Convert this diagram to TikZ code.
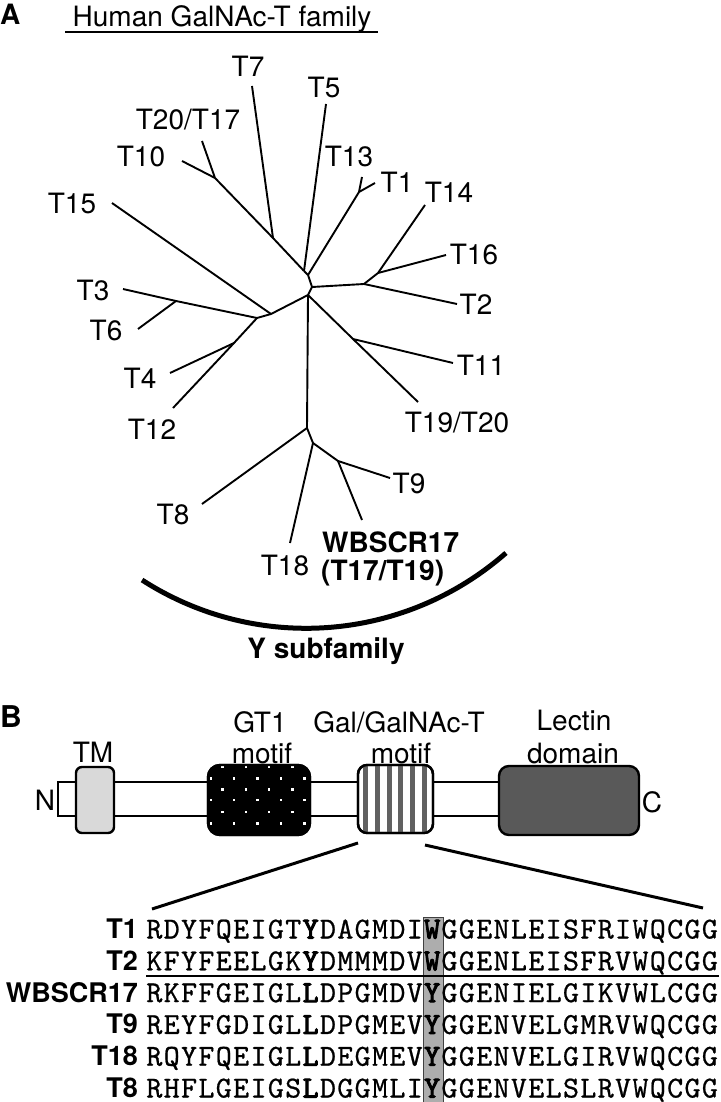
\documentclass[tikz,border=0pt]{standalone}
\usepackage{fontspec}
\setmainfont{TeX Gyre Heros}
\newfontfamily\seqrm[FakeBold=0.7]{lmmono10-regular.otf}
\newfontfamily\seqbf[FakeBold=3.2]{lmmono10-regular.otf}
\def\sqloop#1{\ifx#1\relax\else\makebox[17.36pt][c]{#1}\expandafter\sqloop\fi}
\newcommand\seqrow[1]{\sqloop#1\relax}
\begin{document}
\begin{tikzpicture}[x=1pt,y=-1pt,
  tl/.style={line width=1.9pt},
  lab/.style={inner sep=0pt, anchor=base, font=\fontsize{28}{30}\selectfont},
  blab/.style={inner sep=0pt, anchor=base, font=\fontsize{28}{30}\selectfont\bfseries},
  slab/.style={inner sep=0pt, anchor=base east, font=\fontsize{27}{30}\selectfont\bfseries},
  seq/.style={inner sep=0pt, anchor=base west, font=\seqrm\fontsize{30.5}{32}\selectfont},
  dom/.style={draw, line width=2.4pt, inner sep=0pt},
  bar/.style={line width=2.2pt},
  zoomline/.style={line width=3pt}]
\useasboundingbox (0,0) rectangle (720,1102);

% ---------------- Panel A ----------------
\node[inner sep=0pt, anchor=base west, font=\fontsize{28}{30}\selectfont\bfseries] (A) at (0,25) {A};
\node[lab] (title) at (222,27) {Human GalNAc-T family};
\coordinate (ulL) at (65,32);
\coordinate (ulR) at (378,32);
\draw[line width=1.5pt] (ulL) -- (ulR);

% internal nodes
\coordinate (c1) at (304,271);
\coordinate (c2) at (308,275);
\coordinate (c3) at (312,287);
\coordinate (c4) at (308,295);
\coordinate (nL) at (271,314);
\coordinate (nL2) at (257,318);
\coordinate (n46) at (234,343);
\coordinate (n36) at (176,301);
\coordinate (n10) at (215,178);
\coordinate (n7) at (273,238);
\coordinate (n1) at (359,192);
\coordinate (n2) at (364,284);
\coordinate (n14) at (378,273);
\coordinate (n11) at (353,339);
\coordinate (nY) at (307,428);
\coordinate (nS) at (313,443);
\coordinate (nW) at (338,461);
% tips
\coordinate (t7) at (252,86);
\coordinate (t5) at (326,104);
\coordinate (t2017) at (202,141);
\coordinate (t10) at (182,161);
\coordinate (t13) at (362,177);
\coordinate (t1) at (375,183);
\coordinate (t14) at (425,205);
\coordinate (t15) at (112,203);
\coordinate (t16) at (446,255);
\coordinate (t2) at (457,304);
\coordinate (t3) at (123,289);
\coordinate (t6) at (138,329);
\coordinate (t4) at (170,373);
\coordinate (t12) at (173,408);
\coordinate (t11) at (453,363);
\coordinate (t1920) at (418,402);
\coordinate (t8) at (202,504);
\coordinate (t9) at (390,478);
\coordinate (t18) at (290,543);
\coordinate (twb) at (362,520);

\draw[tl, line join=round] (c1) -- (c2) -- (c3) -- (c4);
\draw[tl] (c1) -- (n7) -- (n10);
\draw[tl] (n7) -- (t7);
\draw[tl] (n10) -- (t10);
\draw[tl] (n10) -- (t2017);
\draw[tl] (c1) -- (t5);
\draw[tl] (c2) -- (n1);
\draw[tl] (n1) -- (t13);
\draw[tl] (n1) -- (t1);
\draw[tl] (c3) -- (n2);
\draw[tl] (n2) -- (t2);
\draw[tl] (n2) -- (n14);
\draw[tl] (n14) -- (t14);
\draw[tl] (n14) -- (t16);
\draw[tl] (c4) -- (n11) -- (t1920);
\draw[tl] (n11) -- (t11);
\draw[tl, line join=round] (c4) -- (nL) -- (nL2);
\draw[tl] (nL) -- (t15);
\draw[tl] (nL2) -- (n36) -- (t3);
\draw[tl] (n36) -- (t6);
\draw[tl] (nL2) -- (n46) -- (t12);
\draw[tl] (n46) -- (t4);
\draw[tl] (c4) -- (nY);
\draw[tl] (nY) -- (t8);
\draw[tl] (nY) -- (nS) -- (t18);
\draw[tl] (nS) -- (nW) -- (t9);
\draw[tl] (nW) -- (twb);

% tree labels
\node[lab] (lT7) at (248,77) {T7};
\node[lab] (lT5) at (324,98) {T5};
\node[lab] (lT2017) at (188,130) {T20/T17};
\node[lab] (lT10) at (141,167) {T10};
\node[lab] (lT13) at (349,167) {T13};
\node[lab] (lT1) at (397,193) {T1};
\node[lab] (lT14) at (449,202) {T14};
\node[lab] (lT15) at (72,213) {T15};
\node[lab] (lT16) at (474,264) {T16};
\node[lab] (lT2) at (476,314) {T2};
\node[lab] (lT3) at (93,300) {T3};
\node[lab] (lT6) at (106,340) {T6};
\node[lab] (lT4) at (140,388) {T4};
\node[lab] (lT12) at (152,439) {T12};
\node[lab] (lT11) at (481,375) {T11};
\node[lab] (lT1920) at (457,432) {T19/T20};
\node[lab] (lT8) at (173,524) {T8};
\node[lab] (lT9) at (409,493) {T9};
\node[lab] (lT18) at (285,575) {T18};
\node[blab, anchor=base west] (lWB) at (322,552) {WBSCR17};
\node[blab, anchor=base west] (lWB2) at (321,580) {(T17/T19)};

% Y subfamily arc
\draw[line width=5pt, domain=48.7:122.8, samples=60, smooth]
  plot ({306.1+302.8*cos(\x)},{325.5+302.8*sin(\x)});
\node[blab] (ysub) at (326,658) {Y subfamily};

% ---------------- Panel B ----------------
\node[inner sep=0pt, anchor=base west, font=\fontsize{30}{32}\selectfont\bfseries] (B) at (0,727) {B};

\coordinate (barNt) at (58,782);
\coordinate (barNb) at (58,816);
\coordinate (barCt) at (505,782);
\coordinate (barCb) at (505,816);
\draw[bar, line join=miter] (barCt) -- (barNt) -- (barNb) -- (barCb);

% TM
\node[dom, fill=black!15, rounded corners=6pt, minimum width=38pt, minimum height=66pt] (tm) at (95,800) {};
% GT1 motif box with white dots
\node[dom, fill=black, rounded corners=12pt, minimum width=102pt, minimum height=70pt] (gt1) at (259,800) {};
\begin{scope}
  \clip[rounded corners=12pt] (208,765) rectangle (310,835);
  \foreach \yy in {778.3,800,823.3}{\foreach \xx in {210.7,234.1,257.5,280.9,304.3}{
    \fill[white] (\xx-1.2,\yy-1.2) rectangle (\xx+1.2,\yy+1.2);}}
  \foreach \yy in {766.7,789.3,811.7}{\foreach \xx in {222.4,245.8,269.2,292.6}{
    \fill[white] (\xx-1.2,\yy-1.2) rectangle (\xx+1.2,\yy+1.2);}}
\end{scope}
\node[dom, rounded corners=12pt, minimum width=102pt, minimum height=70pt] at (gt1.center) {};
% Gal/GalNAc-T motif box with vertical stripes
\node[dom, fill=white, rounded corners=9pt, minimum width=75pt, minimum height=68pt] (gal) at (395.5,799) {};
\begin{scope}
  \clip[rounded corners=9pt] (358,765) rectangle (433,833);
  \foreach \k in {0,...,5}{
    \fill[black!62] (363.3+11.67*\k,760) rectangle (368.3+11.67*\k,840);}
\end{scope}
\node[dom, rounded corners=9pt, minimum width=75pt, minimum height=68pt] at (gal.center) {};
% Lectin
\node[dom, fill=black!65, rounded corners=10pt, minimum width=140pt, minimum height=69pt] (lec) at (569,800.5) {};

\node[lab] (lTM) at (93,762) {TM};
\node[lab] (lN) at (45,810) {N};
\node[lab] (lC) at (652,812) {C};
\node[lab] (lGT1) at (260,732) {GT1};
\node[lab] (lGT1b) at (262,763) {motif};
\node[lab] (lGal) at (399,732) {Gal/GalNAc-T};
\node[lab] (lGalb) at (401,763) {motif};
\node[lab] (lLec) at (574,730) {Lectin};
\node[lab] (lLecb) at (573,763) {domain};

% zoom lines
\coordinate (zl1) at (358,843);
\coordinate (zl2) at (152,909);
\coordinate (zr1) at (425,845);
\coordinate (zr2) at (703,908);
\draw[zoomline] (zl1) -- (zl2);
\draw[zoomline] (zr1) -- (zr2);

% highlight column
\fill[black!32] (423,917.5) rectangle (443,1102);
\draw[black!75, line width=1pt] (423,1102) -- (423,917.5) -- (443,917.5) -- (443,1102);

% alignment
\node[slab] (sT1) at (138,938.5) {T1};
\node[slab] (sT2) at (138,970.3) {T2};
\node[slab] (sWB) at (138,1002.1) {WBSCR17};
\node[slab] (sT9) at (138,1033.9) {T9};
\node[slab] (sT18) at (138,1065.7) {T18};
\node[slab] (sT8) at (138,1097.5) {T8};

\node[seq] (q1) at (145.5,938.5) {\seqrow{RDYFQEIGT{\seqbf Y}DAGMDI{\seqbf W}GGENLEISFRIWQCGG}};
\node[seq] (q2) at (145.5,970.3) {\seqrow{KFYFEELGK{\seqbf Y}DMMMDV{\seqbf W}GGENLEISFRVWQCGG}};
\node[seq] (q3) at (145.5,1002.1) {\seqrow{RKFFGEIGL{\seqbf L}DPGMDV{\seqbf Y}GGENIELGIKVWLCGG}};
\node[seq] (q4) at (145.5,1033.9) {\seqrow{REYFGDIGL{\seqbf L}DPGMEV{\seqbf Y}GGENVELGMRVWQCGG}};
\node[seq] (q5) at (145.5,1065.7) {\seqrow{RQYFQEIGL{\seqbf L}DEGMEV{\seqbf Y}GGENVELGIRVWQCGG}};
\node[seq] (q6) at (145.5,1097.5) {\seqrow{RHFLGEIGS{\seqbf L}DGGMLI{\seqbf Y}GGENVELSLRVWQCGG}};

\coordinate (sepL) at (146,976);
\coordinate (sepR) at (719,976);
\draw[line width=1.5pt] (sepL) -- (sepR);
\end{tikzpicture}
\end{document}
